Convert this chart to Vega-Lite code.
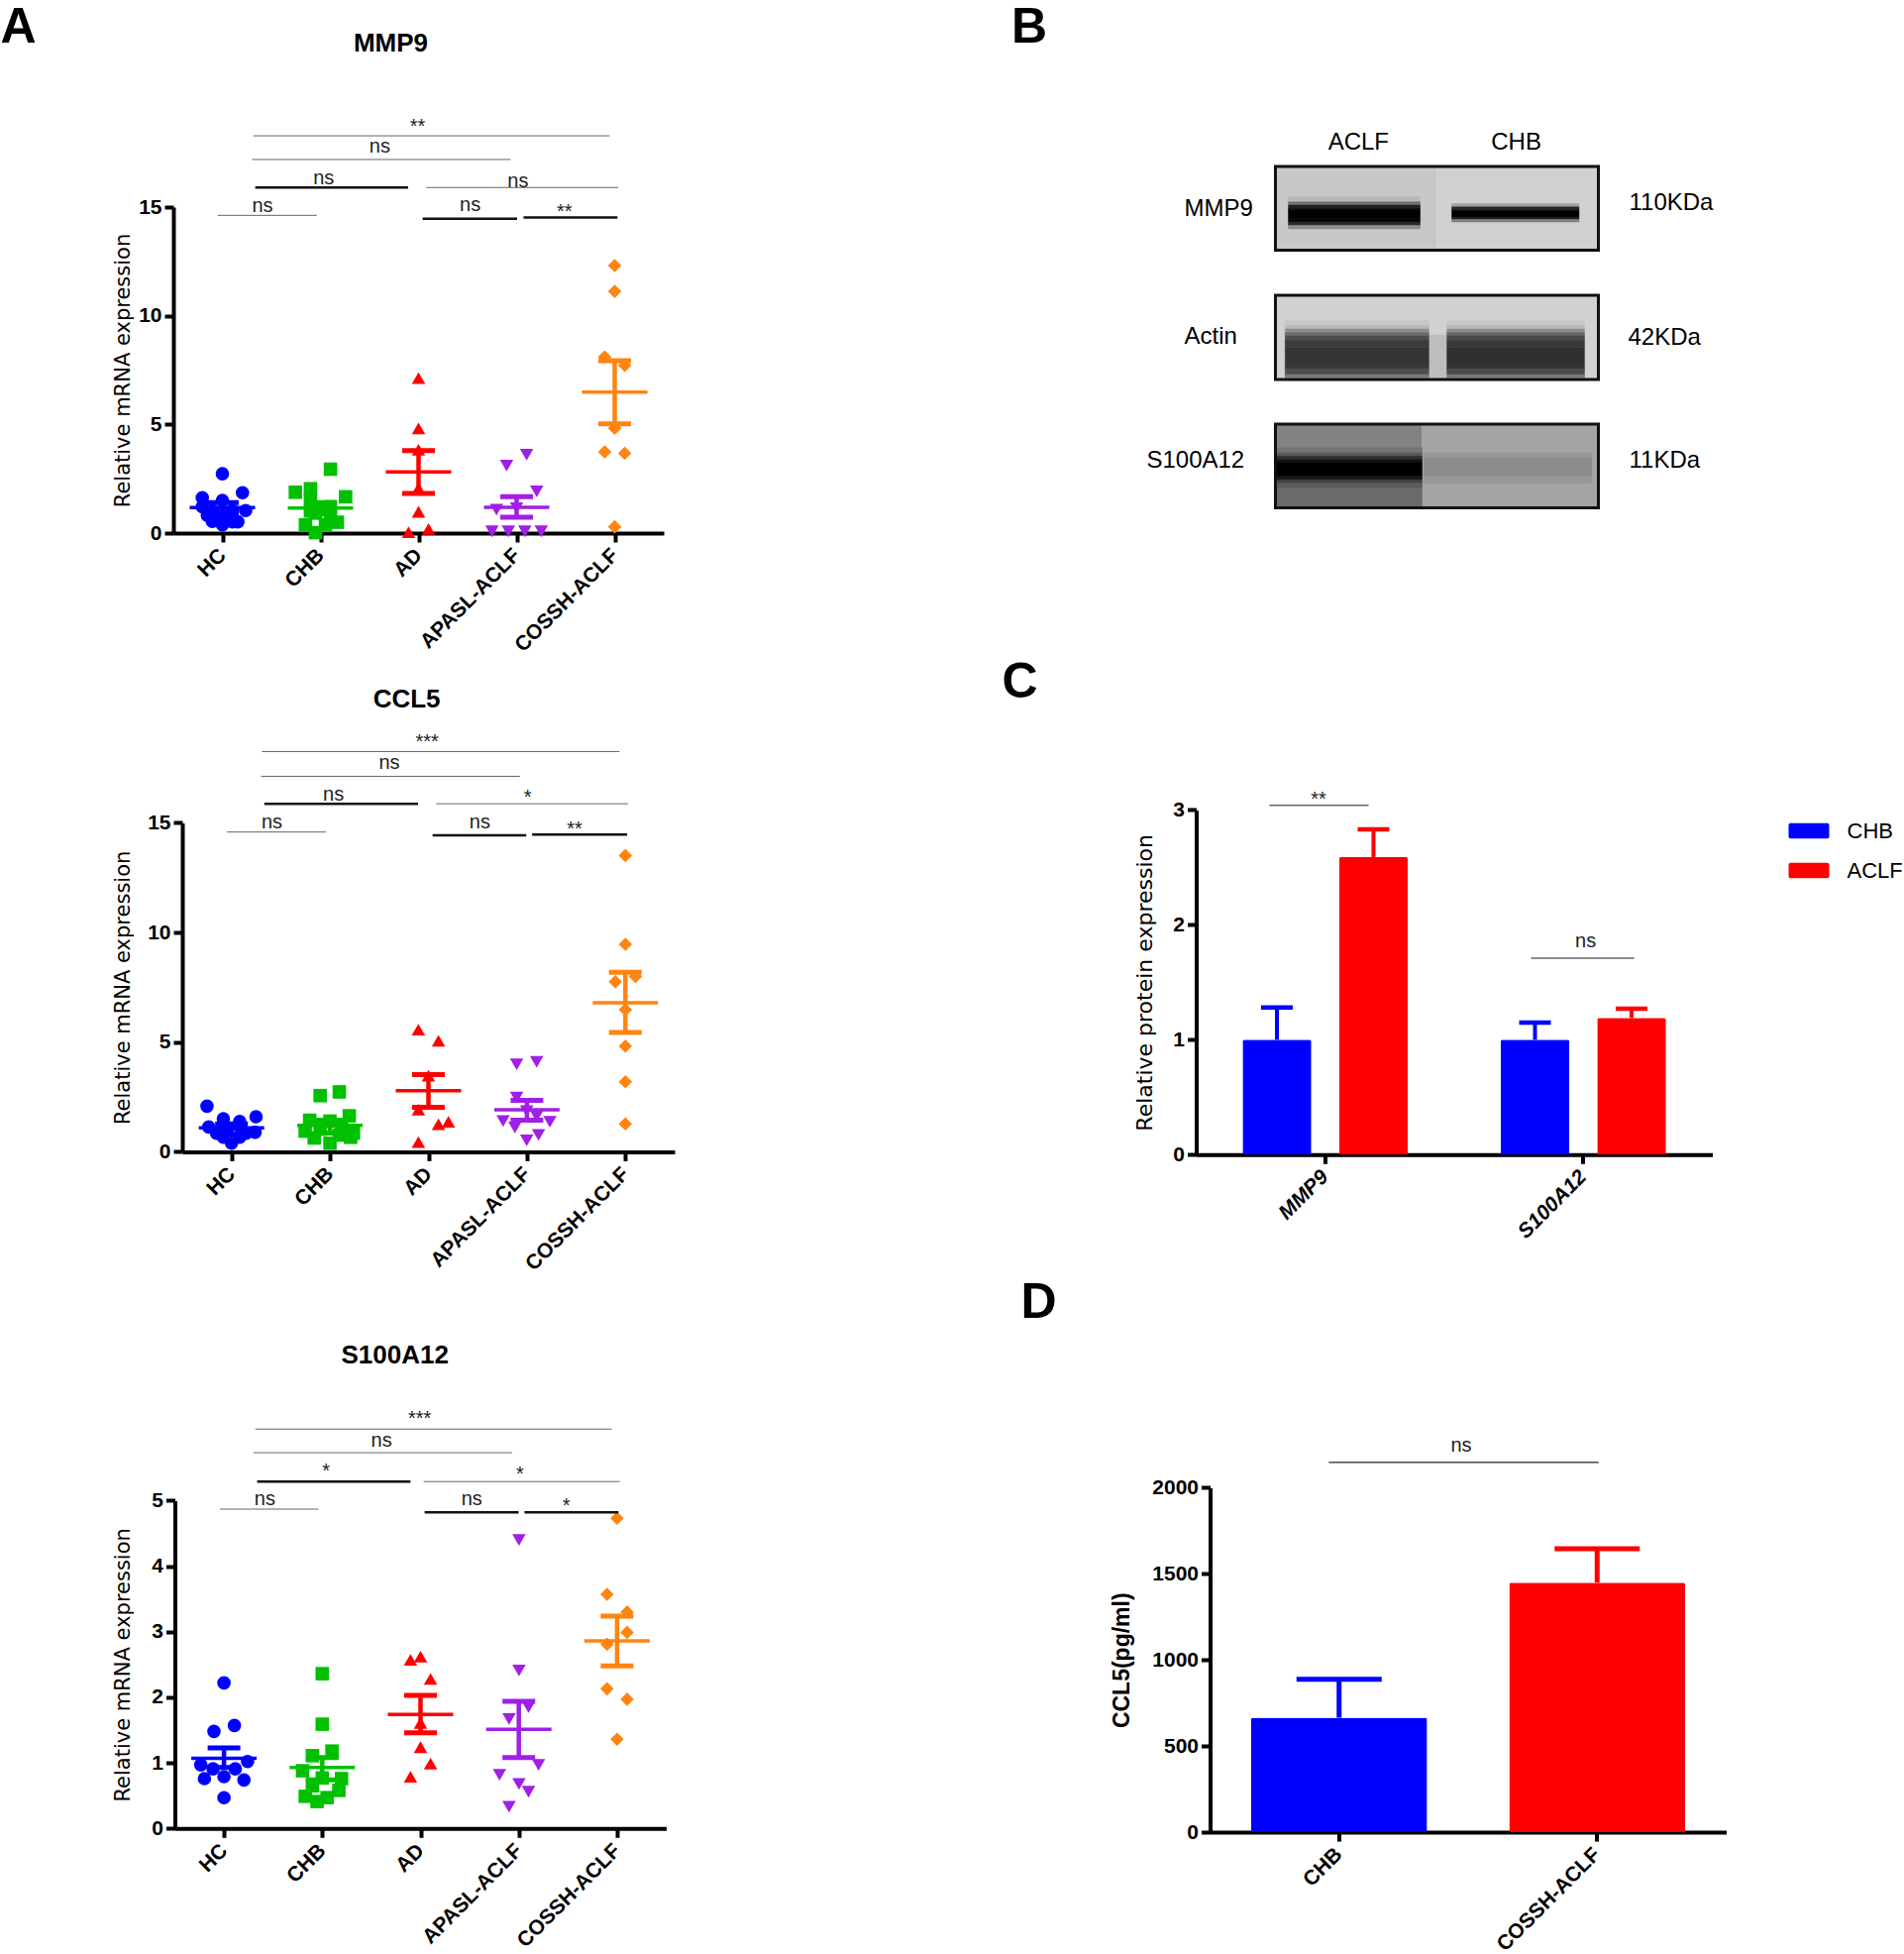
{
"$schema":"https://vega.github.io/schema/vega-lite/v6.json",
"padding":{"left":0,"top":3,"right":0,"bottom":0},
"background":"white",
"columns":2,
"align":"none",
"bounds":"flush",
"spacing":{"row":0,"column":522.5},
"config":{
 "view":{"stroke":null},
 "font":"Liberation Sans",
 "axis":{"grid":false,"domainColor":"#000","domainWidth":4,"tickColor":"#000","tickWidth":4,"tickSize":9,"labelColor":"#000","labelFont":"Liberation Sans","labelFontWeight":"bold","labelFontSize":21,"labelPadding":3,"labelOverlap":false,"labelFlush":false,"labelBound":false,"titleFont":"DejaVu Sans","titleFontWeight":"normal","titleFontSize":21,"titleColor":"#000"},
 "axisX":{"labelAngle":-45,"labelAlign":"right","labelBaseline":"middle","title":null,"labelPadding":10,"labelFontSize":21},
 "text":{"font":"Liberation Sans"}
},
"datasets":{
"mmp9Points":[
{"group":"HC","pos":0,"v":2.73},{"group":"HC","pos":0.205,"v":1.86},{"group":"HC","pos":-0.205,"v":1.63},{"group":"HC","pos":0,"v":1.5},{"group":"HC","pos":0.237,"v":1.04},{"group":"HC","pos":-0.205,"v":1.21},{"group":"HC","pos":-0.102,"v":1.04},{"group":"HC","pos":0.102,"v":1.04},{"group":"HC","pos":-0.153,"v":0.81},{"group":"HC","pos":0,"v":0.81},{"group":"HC","pos":-0.102,"v":0.54},{"group":"HC","pos":0,"v":0.38},{"group":"HC","pos":0.102,"v":0.52},{"group":"HC","pos":0.158,"v":0.52},
{"group":"CHB","pos":1.102,"v":2.94},{"group":"CHB","pos":0.744,"v":1.88},{"group":"CHB","pos":0.898,"v":2.04},{"group":"CHB","pos":1.256,"v":1.67},{"group":"CHB","pos":0.898,"v":1.59},{"group":"CHB","pos":1.102,"v":1.21},{"group":"CHB","pos":1,"v":1.15},{"group":"CHB","pos":0.949,"v":0.92},{"group":"CHB","pos":0.847,"v":0.38},{"group":"CHB","pos":1.102,"v":0.73},{"group":"CHB","pos":1.172,"v":0.5},{"group":"CHB","pos":1.051,"v":0.38},{"group":"CHB","pos":0.949,"v":0.02},{"group":"CHB","pos":0.898,"v":1.02},
{"group":"AD","pos":2,"v":7.13},{"group":"AD","pos":2,"v":4.82},{"group":"AD","pos":2,"v":3.84},{"group":"AD","pos":2,"v":2.07},{"group":"AD","pos":2,"v":0.98},{"group":"AD","pos":1.898,"v":0.04},{"group":"AD","pos":2.102,"v":0.19},
{"group":"APASL-ACLF","pos":3.102,"v":3.61},{"group":"APASL-ACLF","pos":2.898,"v":3.11},{"group":"APASL-ACLF","pos":3.205,"v":1.92},{"group":"APASL-ACLF","pos":2.795,"v":1.08},{"group":"APASL-ACLF","pos":3,"v":1.15},{"group":"APASL-ACLF","pos":2.749,"v":0.08},{"group":"APASL-ACLF","pos":2.916,"v":0.08},{"group":"APASL-ACLF","pos":3.084,"v":0.08},{"group":"APASL-ACLF","pos":3.251,"v":0.08},
{"group":"COSSH-ACLF","pos":4,"v":12.31},{"group":"COSSH-ACLF","pos":4,"v":11.12},{"group":"COSSH-ACLF","pos":3.898,"v":8.1},{"group":"COSSH-ACLF","pos":4.102,"v":7.72},{"group":"COSSH-ACLF","pos":4,"v":4.82},{"group":"COSSH-ACLF","pos":3.898,"v":3.74},{"group":"COSSH-ACLF","pos":4.102,"v":3.67},{"group":"COSSH-ACLF","pos":4,"v":0.29}],
"mmp9Stats":[
{"group":"HC","pos":0,"mean":1.17,"lo":0.92,"hi":1.4},{"group":"CHB","pos":1,"mean":1.15,"lo":0.88,"hi":1.4},{"group":"AD","pos":2,"mean":2.82,"lo":1.82,"hi":3.8},{"group":"APASL-ACLF","pos":3,"mean":1.19,"lo":0.73,"hi":1.67},{"group":"COSSH-ACLF","pos":4,"mean":6.49,"lo":5.03,"hi":7.93}],
"mmp9Brackets":[
{"pos":0.316,"pos2":3.949,"v":18.28,"weight":"thin"},{"pos":0.302,"pos2":2.94,"v":17.19,"weight":"thin"},{"pos":0.335,"pos2":1.893,"v":15.9,"weight":"thick"},{"pos":2.079,"pos2":4.037,"v":15.9,"weight":"thin"},{"pos":-0.047,"pos2":0.963,"v":14.62,"weight":"thin"},{"pos":2.042,"pos2":3.005,"v":14.46,"weight":"thick"},{"pos":3.07,"pos2":4.028,"v":14.52,"weight":"thick"}],
"mmp9Labels":[
{"pos":1.99,"v":18.7,"label":"**"},{"pos":1.605,"v":17.76,"label":"ns"},{"pos":1.033,"v":16.32,"label":"ns"},{"pos":3.014,"v":16.2,"label":"ns"},{"pos":0.409,"v":15.04,"label":"ns"},{"pos":2.526,"v":15.09,"label":"ns"},{"pos":3.488,"v":14.77,"label":"**"}],
"ccl5Points":[
{"group":"HC","pos":-0.249,"v":2.08},{"group":"HC","pos":0.249,"v":1.6},{"group":"HC","pos":-0.083,"v":1.51},{"group":"HC","pos":0.083,"v":1.38},{"group":"HC","pos":-0.231,"v":1.13},{"group":"HC","pos":-0.083,"v":1.03},{"group":"HC","pos":0.083,"v":1.13},{"group":"HC","pos":0.24,"v":0.89},{"group":"HC","pos":-0.152,"v":0.85},{"group":"HC","pos":0.148,"v":0.85},{"group":"HC","pos":-0.083,"v":0.66},{"group":"HC","pos":0.083,"v":0.66},{"group":"HC","pos":0,"v":0.39},
{"group":"CHB","pos":0.9,"v":2.56},{"group":"CHB","pos":1.095,"v":2.73},{"group":"CHB","pos":1.196,"v":1.64},{"group":"CHB","pos":0.794,"v":1.44},{"group":"CHB","pos":1,"v":1.4},{"group":"CHB","pos":0.748,"v":0.94},{"group":"CHB","pos":1.238,"v":0.85},{"group":"CHB","pos":0.84,"v":0.63},{"group":"CHB","pos":1.095,"v":0.76},{"group":"CHB","pos":1,"v":0.39},{"group":"CHB","pos":0.9,"v":1.03},{"group":"CHB","pos":1.118,"v":1.2},{"group":"CHB","pos":1.21,"v":0.66},
{"group":"AD","pos":1.898,"v":5.57},{"group":"AD","pos":2.102,"v":5.06},{"group":"AD","pos":2,"v":3.47},{"group":"AD","pos":1.898,"v":1.92},{"group":"AD","pos":2.102,"v":1.25},{"group":"AD","pos":2.203,"v":1.37},{"group":"AD","pos":1.898,"v":0.44},
{"group":"APASL-ACLF","pos":2.896,"v":3.99},{"group":"APASL-ACLF","pos":3.099,"v":4.1},{"group":"APASL-ACLF","pos":2.896,"v":2.47},{"group":"APASL-ACLF","pos":2.998,"v":1.85},{"group":"APASL-ACLF","pos":2.758,"v":1.4},{"group":"APASL-ACLF","pos":3.099,"v":1.62},{"group":"APASL-ACLF","pos":3.233,"v":1.37},{"group":"APASL-ACLF","pos":2.878,"v":1.11},{"group":"APASL-ACLF","pos":3.118,"v":0.77},{"group":"APASL-ACLF","pos":2.998,"v":0.52},
{"group":"COSSH-ACLF","pos":4,"v":13.51},{"group":"COSSH-ACLF","pos":4,"v":9.46},{"group":"COSSH-ACLF","pos":4.102,"v":7.99},{"group":"COSSH-ACLF","pos":3.898,"v":7.75},{"group":"COSSH-ACLF","pos":4,"v":6.48},{"group":"COSSH-ACLF","pos":4,"v":4.82},{"group":"COSSH-ACLF","pos":4,"v":3.19},{"group":"COSSH-ACLF","pos":4,"v":1.27}],
"ccl5Stats":[
{"group":"HC","pos":0,"mean":1.09,"lo":0.8,"hi":1.27},{"group":"CHB","pos":1,"mean":1.2,"lo":0.85,"hi":1.44},{"group":"AD","pos":2,"mean":2.79,"lo":2.03,"hi":3.52},{"group":"APASL-ACLF","pos":3,"mean":1.92,"lo":1.44,"hi":2.34},{"group":"COSSH-ACLF","pos":4,"mean":6.79,"lo":5.44,"hi":8.19}],
"ccl5Brackets":[
{"pos":0.309,"pos2":3.94,"v":18.25,"weight":"thin"},{"pos":0.3,"pos2":2.928,"v":17.12,"weight":"thin"},{"pos":0.333,"pos2":1.894,"v":15.87,"weight":"thick"},{"pos":2.079,"pos2":4.028,"v":15.87,"weight":"thin"},{"pos":-0.046,"pos2":0.961,"v":14.58,"weight":"thin"},{"pos":2.042,"pos2":2.993,"v":14.43,"weight":"thick"},{"pos":3.053,"pos2":4.018,"v":14.46,"weight":"thick"}],
"ccl5Labels":[
{"pos":1.986,"v":18.67,"label":"***"},{"pos":1.603,"v":17.71,"label":"ns"},{"pos":1.035,"v":16.29,"label":"ns"},{"pos":3.007,"v":16.14,"label":"*"},{"pos":0.411,"v":15.02,"label":"ns"},{"pos":2.522,"v":15.04,"label":"ns"},{"pos":3.483,"v":14.72,"label":"**"}],
"s100Points":[
{"group":"HC","pos":0,"v":2.22},{"group":"HC","pos":0.106,"v":1.57},{"group":"HC","pos":-0.102,"v":1.48},{"group":"HC","pos":0.24,"v":1.02},{"group":"HC","pos":-0.236,"v":0.97},{"group":"HC","pos":-0.111,"v":0.91},{"group":"HC","pos":0.115,"v":0.91},{"group":"HC","pos":-0.199,"v":0.76},{"group":"HC","pos":0,"v":0.79},{"group":"HC","pos":0.203,"v":0.74},{"group":"HC","pos":0,"v":0.47},
{"group":"CHB","pos":1,"v":2.36},{"group":"CHB","pos":1,"v":1.59},{"group":"CHB","pos":1.099,"v":1.18},{"group":"CHB","pos":0.9,"v":1.11},{"group":"CHB","pos":0.8,"v":0.88},{"group":"CHB","pos":1.196,"v":0.76},{"group":"CHB","pos":1,"v":0.77},{"group":"CHB","pos":0.9,"v":0.65},{"group":"CHB","pos":1.169,"v":0.58},{"group":"CHB","pos":0.827,"v":0.49},{"group":"CHB","pos":1.049,"v":0.47},{"group":"CHB","pos":0.947,"v":0.41},
{"group":"AD","pos":1.898,"v":2.57},{"group":"AD","pos":2,"v":2.62},{"group":"AD","pos":2.102,"v":2.28},{"group":"AD","pos":2,"v":1.61},{"group":"AD","pos":2,"v":1.24},{"group":"AD","pos":2.102,"v":0.99},{"group":"AD","pos":1.898,"v":0.79},
{"group":"APASL-ACLF","pos":3.002,"v":4.4},{"group":"APASL-ACLF","pos":3.002,"v":2.41},{"group":"APASL-ACLF","pos":3.099,"v":1.85},{"group":"APASL-ACLF","pos":2.901,"v":1.67},{"group":"APASL-ACLF","pos":3.201,"v":0.97},{"group":"APASL-ACLF","pos":2.804,"v":0.82},{"group":"APASL-ACLF","pos":3.002,"v":0.68},{"group":"APASL-ACLF","pos":3.099,"v":0.56},{"group":"APASL-ACLF","pos":2.901,"v":0.33},
{"group":"COSSH-ACLF","pos":4,"v":4.73},{"group":"COSSH-ACLF","pos":3.898,"v":3.57},{"group":"COSSH-ACLF","pos":4.102,"v":3.3},{"group":"COSSH-ACLF","pos":4.102,"v":2.99},{"group":"COSSH-ACLF","pos":3.898,"v":2.81},{"group":"COSSH-ACLF","pos":3.898,"v":2.13},{"group":"COSSH-ACLF","pos":4.102,"v":1.97},{"group":"COSSH-ACLF","pos":4,"v":1.36}],
"s100Stats":[
{"group":"HC","pos":0,"mean":1.07,"lo":0.93,"hi":1.23},{"group":"CHB","pos":1,"mean":0.93,"lo":0.74,"hi":1.08},{"group":"AD","pos":2,"mean":1.74,"lo":1.46,"hi":2.03},{"group":"APASL-ACLF","pos":3,"mean":1.51,"lo":1.08,"hi":1.94},{"group":"COSSH-ACLF","pos":4,"mean":2.86,"lo":2.48,"hi":3.24}],
"s100Brackets":[
{"pos":0.319,"pos2":3.945,"v":6.09,"weight":"thin"},{"pos":0.3,"pos2":2.933,"v":5.73,"weight":"thin"},{"pos":0.337,"pos2":1.898,"v":5.29,"weight":"thick"},{"pos":2.032,"pos2":4.028,"v":5.29,"weight":"thin"},{"pos":-0.042,"pos2":0.961,"v":4.87,"weight":"thin"},{"pos":2.042,"pos2":2.998,"v":4.82,"weight":"thick"},{"pos":3.058,"pos2":4.014,"v":4.82,"weight":"thick"}],
"s100Labels":[
{"pos":1.991,"v":6.25,"label":"***"},{"pos":1.603,"v":5.92,"label":"ns"},{"pos":1.039,"v":5.45,"label":"*"},{"pos":3.012,"v":5.4,"label":"*"},{"pos":0.416,"v":5.02,"label":"ns"},{"pos":2.522,"v":5.02,"label":"ns"},{"pos":3.483,"v":4.92,"label":"*"}],
"blotCells":[
{"x":0,"x2":0.5,"y":0,"y2":0.994,"d":206},{"x":0.5,"x2":1,"y":0,"y2":0.994,"d":214},
{"x":0.04,"x2":0.448,"y":0.36,"y2":0.42,"d":190},{"x":0.04,"x2":0.448,"y":0.42,"y2":0.46,"d":120},{"x":0.04,"x2":0.448,"y":0.46,"y2":0.5,"d":30},{"x":0.04,"x2":0.448,"y":0.5,"y2":0.54,"d":5},{"x":0.04,"x2":0.448,"y":0.54,"y2":0.62,"d":0},{"x":0.04,"x2":0.448,"y":0.62,"y2":0.66,"d":5},{"x":0.04,"x2":0.448,"y":0.66,"y2":0.7,"d":40},{"x":0.04,"x2":0.448,"y":0.7,"y2":0.74,"d":150},
{"x":0.546,"x2":0.94,"y":0.44,"y2":0.48,"d":170},{"x":0.546,"x2":0.94,"y":0.48,"y2":0.52,"d":40},{"x":0.546,"x2":0.94,"y":0.52,"y2":0.6,"d":0},{"x":0.546,"x2":0.94,"y":0.6,"y2":0.63,"d":30},{"x":0.546,"x2":0.94,"y":0.63,"y2":0.66,"d":140},
{"x":0,"x2":1,"y":1.529,"y2":2.529,"d":214},{"x":0.475,"x2":0.531,"y":2,"y2":2.529,"d":195},
{"x":0.03,"x2":0.475,"y":1.83,"y2":1.89,"d":205},{"x":0.03,"x2":0.475,"y":1.89,"y2":1.93,"d":190},{"x":0.03,"x2":0.475,"y":1.93,"y2":1.97,"d":150},{"x":0.03,"x2":0.475,"y":1.97,"y2":2.01,"d":115},{"x":0.03,"x2":0.475,"y":2.01,"y2":2.07,"d":85},{"x":0.03,"x2":0.475,"y":2.07,"y2":2.15,"d":65},{"x":0.03,"x2":0.475,"y":2.15,"y2":2.33,"d":55},{"x":0.03,"x2":0.475,"y":2.33,"y2":2.41,"d":60},{"x":0.03,"x2":0.475,"y":2.41,"y2":2.47,"d":85},{"x":0.03,"x2":0.475,"y":2.47,"y2":2.51,"d":130},
{"x":0.531,"x2":0.957,"y":1.83,"y2":1.89,"d":205},{"x":0.531,"x2":0.957,"y":1.89,"y2":1.93,"d":190},{"x":0.531,"x2":0.957,"y":1.93,"y2":1.97,"d":150},{"x":0.531,"x2":0.957,"y":1.97,"y2":2.01,"d":110},{"x":0.531,"x2":0.957,"y":2.01,"y2":2.07,"d":80},{"x":0.531,"x2":0.957,"y":2.07,"y2":2.15,"d":60},{"x":0.531,"x2":0.957,"y":2.15,"y2":2.33,"d":50},{"x":0.531,"x2":0.957,"y":2.33,"y2":2.41,"d":55},{"x":0.531,"x2":0.957,"y":2.41,"y2":2.47,"d":80},{"x":0.531,"x2":0.957,"y":2.47,"y2":2.51,"d":130},
{"x":0,"x2":0.454,"y":3.059,"y2":4.053,"d":140},{"x":0.454,"x2":1,"y":3.059,"y2":4.053,"d":172},
{"x":0,"x2":0.454,"y":3.339,"y2":3.399,"d":125},{"x":0,"x2":0.454,"y":3.399,"y2":3.439,"d":100},{"x":0,"x2":0.454,"y":3.439,"y2":3.479,"d":50},{"x":0,"x2":0.454,"y":3.479,"y2":3.519,"d":15},{"x":0,"x2":0.454,"y":3.519,"y2":3.679,"d":0},{"x":0,"x2":0.454,"y":3.679,"y2":3.719,"d":20},{"x":0,"x2":0.454,"y":3.719,"y2":3.759,"d":70},{"x":0,"x2":0.454,"y":3.759,"y2":3.819,"d":100},{"x":0,"x2":0.454,"y":3.819,"y2":4.053,"d":115},
{"x":0.46,"x2":0.98,"y":3.399,"y2":3.459,"d":160},{"x":0.46,"x2":0.98,"y":3.459,"y2":3.679,"d":148},{"x":0.46,"x2":0.98,"y":3.679,"y2":3.759,"d":160}],
"blotFrames":[{"x":0,"x2":1,"y":0,"y2":0.994},{"x":0,"x2":1,"y":1.529,"y2":2.529},{"x":0,"x2":1,"y":3.059,"y2":4.053}],
"blotLabels":[
{"x":0.163,"y":-0.282,"label":"ACLF"},{"x":0.668,"y":-0.282,"label":"CHB"},{"x":-0.282,"y":0.506,"label":"MMP9"},{"x":-0.282,"y":2.02,"label":"Actin"},{"x":-0.399,"y":3.494,"label":"S100A12"},{"x":1.095,"y":0.435,"label":"110KDa"},{"x":1.092,"y":2.035,"label":"42KDa"},{"x":1.095,"y":3.494,"label":"11KDa"}],
"proteinBars":[
{"gene":"MMP9","series":"CHB","v":1,"hi":1.28},{"gene":"MMP9","series":"ACLF","v":2.59,"hi":2.83},{"gene":"S100A12","series":"CHB","v":1,"hi":1.15},{"gene":"S100A12","series":"ACLF","v":1.19,"hi":1.27}],
"serumBars":[
{"group":"CHB","v":665,"hi":888},{"group":"COSSH-ACLF","v":1449,"hi":1645}]
},
"concat":[
{"width":510,"height":370,
 "encoding":{
  "x":{"field":"pos","type":"quantitative","scale":{"domain":[-0.5,4.5],"range":[0,495],"nice":false,"zero":false},"axis":{"values":[0,1,2,3,4],"labelExpr":"['HC','CHB','AD','APASL-ACLF','COSSH-ACLF'][datum.value]"}},
  "y":{"field":"v","type":"quantitative","scale":{"domain":[0,15],"range":[370,41],"nice":false,"zero":false},"axis":{"values":[0,5,10,15],"title":"Relative mRNA expression","titleX":-40.5}}},
 "layer":[
  {"data":{"name":"mmp9Points"},"mark":{"type":"point","filled":true,"opacity":1},"encoding":{"color":{"field":"group","type":"nominal","scale":{"domain":["HC","CHB","AD","APASL-ACLF","COSSH-ACLF"],"range":["#0000ff","#00c000","#ff0000","#a01fe6","#ff8411"]},"legend":null},"shape":{"field":"group","type":"nominal","scale":{"domain":["HC","CHB","AD","APASL-ACLF","COSSH-ACLF"],"range":["circle","square","triangle-up","triangle-down","diamond"]},"legend":null},"size":{"field":"group","type":"nominal","scale":{"domain":["HC","CHB","AD","APASL-ACLF","COSSH-ACLF"],"range":[185,185,240,240,290]},"legend":null}}},
  {"data":{"name":"mmp9Stats"},"mark":{"type":"rule","strokeWidth":4.5},"encoding":{"y":{"field":"lo","type":"quantitative"},"y2":{"field":"hi"},"color":{"field":"group","type":"nominal","legend":null}}},
  {"data":{"name":"mmp9Stats"},"mark":{"type":"tick","orient":"horizontal","size":66,"thickness":3.5,"opacity":1},"encoding":{"y":{"field":"mean","type":"quantitative"},"color":{"field":"group","type":"nominal","legend":null}}},
  {"data":{"name":"mmp9Stats"},"mark":{"type":"tick","orient":"horizontal","size":33,"thickness":5,"opacity":1},"encoding":{"y":{"field":"lo","type":"quantitative"},"color":{"field":"group","type":"nominal","legend":null}}},
  {"data":{"name":"mmp9Stats"},"mark":{"type":"tick","orient":"horizontal","size":33,"thickness":5,"opacity":1},"encoding":{"y":{"field":"hi","type":"quantitative"},"color":{"field":"group","type":"nominal","legend":null}}},
  {"data":{"name":"mmp9Brackets"},"mark":{"type":"rule"},"encoding":{"x2":{"field":"pos2"},"stroke":{"field":"weight","type":"nominal","scale":{"domain":["thin","thick"],"range":["#666666","#111111"]},"legend":null},"strokeWidth":{"field":"weight","type":"ordinal","scale":{"domain":["thin","thick"],"range":[1,2.5]},"legend":null}}},
  {"data":{"name":"mmp9Labels"},"mark":{"type":"text","fontSize":20,"color":"#222"},"encoding":{"text":{"field":"label"}}},
  {"data":{"values":[{"pos":1.717,"v":22.52,"label":"MMP9"}]},"mark":{"type":"text","fontSize":26,"fontWeight":"bold","color":"#000"},"encoding":{"text":{"field":"label"}}},
  {"data":{"values":[{"pos":-2.08,"v":23.25,"label":"A"}]},"mark":{"type":"text","fontSize":50,"fontWeight":"bold","color":"#000"},"encoding":{"text":{"field":"label"}}}
 ]},
{"width":540,"height":370,
 "encoding":{
  "x":{"field":"x","type":"quantitative","scale":{"domain":[0,1],"range":[80,406],"nice":false,"zero":false},"axis":null},
  "y":{"field":"y","type":"quantitative","scale":{"domain":[0,4.047],"range":[0,344],"nice":false,"zero":false},"axis":null}},
 "layer":[
  {"data":{"name":"blotCells"},"mark":{"type":"rect","strokeWidth":0.5},"encoding":{"x2":{"field":"x2"},"y2":{"field":"y2"},"color":{"field":"d","type":"quantitative","scale":{"domain":[0,255],"range":["#000000","#ffffff"]},"legend":null},"stroke":{"field":"d","type":"quantitative","scale":{"domain":[0,255],"range":["#000000","#ffffff"]},"legend":null}}},
  {"data":{"name":"blotFrames"},"mark":{"type":"rect","fill":null,"stroke":"#111111","strokeWidth":3},"encoding":{"x2":{"field":"x2"},"y2":{"field":"y2"}}},
  {"data":{"name":"blotLabels"},"mark":{"type":"text","fontSize":24,"align":"left","color":"#000"},"encoding":{"text":{"field":"label"}}},
  {"data":{"values":[{"x":-0.762,"y":-1.647,"label":"B"}]},"mark":{"type":"text","fontSize":50,"fontWeight":"bold","color":"#000"},"encoding":{"text":{"field":"label"}}}
 ]},
{"width":510,"height":627.3,
 "encoding":{
  "x":{"field":"pos","type":"quantitative","scale":{"domain":[-0.5,4.5],"range":[9,506],"nice":false,"zero":false},"axis":{"values":[0,1,2,3,4],"offset":-2.9,"labelExpr":"['HC','CHB','AD','APASL-ACLF','COSSH-ACLF'][datum.value]"}},
  "y":{"field":"v","type":"quantitative","scale":{"domain":[0,15],"range":[624.4,292.4],"nice":false,"zero":false},"axis":{"values":[0,5,10,15],"title":"Relative mRNA expression","titleX":-49.6,"offset":-9}}},
 "layer":[
  {"data":{"name":"ccl5Points"},"mark":{"type":"point","filled":true,"opacity":1},"encoding":{"color":{"field":"group","type":"nominal","scale":{"domain":["HC","CHB","AD","APASL-ACLF","COSSH-ACLF"],"range":["#0000ff","#00c000","#ff0000","#a01fe6","#ff8411"]},"legend":null},"shape":{"field":"group","type":"nominal","scale":{"domain":["HC","CHB","AD","APASL-ACLF","COSSH-ACLF"],"range":["circle","square","triangle-up","triangle-down","diamond"]},"legend":null},"size":{"field":"group","type":"nominal","scale":{"domain":["HC","CHB","AD","APASL-ACLF","COSSH-ACLF"],"range":[185,185,240,240,290]},"legend":null}}},
  {"data":{"name":"ccl5Stats"},"mark":{"type":"rule","strokeWidth":4.5},"encoding":{"y":{"field":"lo","type":"quantitative"},"y2":{"field":"hi"},"color":{"field":"group","type":"nominal","legend":null}}},
  {"data":{"name":"ccl5Stats"},"mark":{"type":"tick","orient":"horizontal","size":66,"thickness":3.5,"opacity":1},"encoding":{"y":{"field":"mean","type":"quantitative"},"color":{"field":"group","type":"nominal","legend":null}}},
  {"data":{"name":"ccl5Stats"},"mark":{"type":"tick","orient":"horizontal","size":33,"thickness":5,"opacity":1},"encoding":{"y":{"field":"lo","type":"quantitative"},"color":{"field":"group","type":"nominal","legend":null}}},
  {"data":{"name":"ccl5Stats"},"mark":{"type":"tick","orient":"horizontal","size":33,"thickness":5,"opacity":1},"encoding":{"y":{"field":"hi","type":"quantitative"},"color":{"field":"group","type":"nominal","legend":null}}},
  {"data":{"name":"ccl5Brackets"},"mark":{"type":"rule"},"encoding":{"x2":{"field":"pos2"},"stroke":{"field":"weight","type":"nominal","scale":{"domain":["thin","thick"],"range":["#666666","#111111"]},"legend":null},"strokeWidth":{"field":"weight","type":"ordinal","scale":{"domain":["thin","thick"],"range":[1,2.5]},"legend":null}}},
  {"data":{"name":"ccl5Labels"},"mark":{"type":"text","fontSize":20,"color":"#222"},"encoding":{"text":{"field":"label"}}},
  {"data":{"values":[{"pos":1.78,"v":20.6,"label":"CCL5"}]},"mark":{"type":"text","fontSize":26,"fontWeight":"bold","color":"#000"},"encoding":{"text":{"field":"label"}}}
 ]},
{"width":540,"height":627.3,
 "encoding":{
  "y":{"field":"v","type":"quantitative","scale":{"domain":[0,3],"range":[627.3,279.4],"nice":false,"zero":false},"axis":{"values":[0,1,2,3],"title":"Relative protein expression","titleX":-40,"titleFontSize":22}}},
 "layer":[
  {"layer":[
   {"data":{"name":"proteinBars"},"mark":{"type":"bar","cornerRadiusTopLeft":2,"cornerRadiusTopRight":2},"encoding":{"x":{"field":"gene","type":"nominal","sort":["MMP9","S100A12"],"scale":{"type":"band","paddingInner":0,"paddingOuter":0,"range":[0,521]},"axis":{"labelFontStyle":"italic"}},"xOffset":{"field":"series","type":"nominal","sort":["CHB","ACLF"],"scale":{"paddingInner":0.288,"paddingOuter":0.48}},"color":{"field":"series","type":"nominal","scale":{"domain":["CHB","ACLF"],"range":["#0000ff","#ff0000"]},"legend":{"orient":"none","legendX":598,"legendY":280,"title":null,"symbolType":"M-0.9,-0.38H0.9Q1,-0.38 1,-0.28V0.28Q1,0.38 0.9,0.38H-0.9Q-1,0.38 -1,0.28V-0.28Q-1,-0.38 -0.9,-0.38Z","symbolSize":1681,"symbolStrokeWidth":0,"symbolOpacity":1,"labelFontSize":22,"labelFont":"Liberation Sans","labelColor":"#000","labelOffset":18,"rowPadding":8}}}},
   {"data":{"name":"proteinBars"},"mark":{"type":"rule","strokeWidth":4},"encoding":{"x":{"field":"gene","type":"nominal","sort":["MMP9","S100A12"]},"xOffset":{"field":"series","type":"nominal","sort":["CHB","ACLF"]},"y":{"field":"v","type":"quantitative"},"y2":{"field":"hi"},"color":{"field":"series","type":"nominal"}}},
   {"data":{"name":"proteinBars"},"mark":{"type":"tick","orient":"horizontal","size":32,"thickness":4.5,"opacity":1},"encoding":{"x":{"field":"gene","type":"nominal","sort":["MMP9","S100A12"]},"xOffset":{"field":"series","type":"nominal","sort":["CHB","ACLF"]},"y":{"field":"hi","type":"quantitative"},"color":{"field":"series","type":"nominal"}}}
  ]},
  {"encoding":{"x":{"field":"x","type":"quantitative","scale":{"domain":[0,2],"range":[0,521],"nice":false,"zero":false},"axis":null}},
   "layer":[
   {"data":{"values":[{"x":0.284,"x2":0.668,"v":3.04},{"x":1.298,"x2":1.697,"v":1.71}]},"mark":{"type":"rule","stroke":"#666666","strokeWidth":1.5},"encoding":{"x2":{"field":"x2"}}},
   {"data":{"values":[{"x":0.474,"v":3.09,"label":"**"},{"x":1.509,"v":1.86,"label":"ns"}]},"mark":{"type":"text","fontSize":20,"color":"#222"},"encoding":{"text":{"field":"label"}}},
   {"data":{"values":[{"x":-0.683,"v":4.106,"label":"C"}]},"mark":{"type":"text","fontSize":50,"fontWeight":"bold","color":"#000"},"encoding":{"text":{"field":"label"}}}
  ]}
 ],
 "resolve":{"scale":{"x":"independent"}}},
{"width":510,"height":679.3,
 "encoding":{
  "x":{"field":"pos","type":"quantitative","scale":{"domain":[-0.5,4.5],"range":[1.5,497.5],"nice":false,"zero":false},"axis":{"values":[0,1,2,3,4],"labelExpr":"['HC','CHB','AD','APASL-ACLF','COSSH-ACLF'][datum.value]"}},
  "y":{"field":"v","type":"quantitative","scale":{"domain":[0,5],"range":[679.3,348.4],"nice":false,"zero":false},"axis":{"values":[0,1,2,3,4,5],"title":"Relative mRNA expression","titleX":-42,"offset":-1.5}}},
 "layer":[
  {"data":{"name":"s100Points"},"mark":{"type":"point","filled":true,"opacity":1},"encoding":{"color":{"field":"group","type":"nominal","scale":{"domain":["HC","CHB","AD","APASL-ACLF","COSSH-ACLF"],"range":["#0000ff","#00c000","#ff0000","#a01fe6","#ff8411"]},"legend":null},"shape":{"field":"group","type":"nominal","scale":{"domain":["HC","CHB","AD","APASL-ACLF","COSSH-ACLF"],"range":["circle","square","triangle-up","triangle-down","diamond"]},"legend":null},"size":{"field":"group","type":"nominal","scale":{"domain":["HC","CHB","AD","APASL-ACLF","COSSH-ACLF"],"range":[185,185,240,240,290]},"legend":null}}},
  {"data":{"name":"s100Stats"},"mark":{"type":"rule","strokeWidth":4.5},"encoding":{"y":{"field":"lo","type":"quantitative"},"y2":{"field":"hi"},"color":{"field":"group","type":"nominal","legend":null}}},
  {"data":{"name":"s100Stats"},"mark":{"type":"tick","orient":"horizontal","size":66,"thickness":3.5,"opacity":1},"encoding":{"y":{"field":"mean","type":"quantitative"},"color":{"field":"group","type":"nominal","legend":null}}},
  {"data":{"name":"s100Stats"},"mark":{"type":"tick","orient":"horizontal","size":33,"thickness":5,"opacity":1},"encoding":{"y":{"field":"lo","type":"quantitative"},"color":{"field":"group","type":"nominal","legend":null}}},
  {"data":{"name":"s100Stats"},"mark":{"type":"tick","orient":"horizontal","size":33,"thickness":5,"opacity":1},"encoding":{"y":{"field":"hi","type":"quantitative"},"color":{"field":"group","type":"nominal","legend":null}}},
  {"data":{"name":"s100Brackets"},"mark":{"type":"rule"},"encoding":{"x2":{"field":"pos2"},"stroke":{"field":"weight","type":"nominal","scale":{"domain":["thin","thick"],"range":["#666666","#111111"]},"legend":null},"strokeWidth":{"field":"weight","type":"ordinal","scale":{"domain":["thin","thick"],"range":[1,2.5]},"legend":null}}},
  {"data":{"name":"s100Labels"},"mark":{"type":"text","fontSize":20,"color":"#222"},"encoding":{"text":{"field":"label"}}},
  {"data":{"values":[{"pos":1.74,"v":7.21,"label":"S100A12"}]},"mark":{"type":"text","fontSize":26,"fontWeight":"bold","color":"#000"},"encoding":{"text":{"field":"label"}}}
 ]},
{"width":540,"height":683.1,
 "encoding":{
  "y":{"field":"v","type":"quantitative","scale":{"domain":[0,2000],"range":[683.1,335.4],"nice":false,"zero":false},"axis":{"values":[0,500,1000,1500,2000],"format":"d","title":"CCL5(pg/ml)","titleX":-77,"titleFont":"Liberation Sans","titleFontWeight":"bold","titleFontSize":23,"offset":-14}}},
 "layer":[
  {"layer":[
   {"data":{"name":"serumBars"},"mark":{"type":"bar","cornerRadiusTopLeft":2,"cornerRadiusTopRight":2},"encoding":{"x":{"field":"group","type":"nominal","sort":["CHB","COSSH-ACLF"],"scale":{"type":"band","paddingInner":0.318,"paddingOuter":0.159,"range":[14,535]},"axis":{}},"color":{"field":"group","type":"nominal","scale":{"domain":["CHB","COSSH-ACLF"],"range":["#0000ff","#ff0000"]},"legend":null}}},
   {"data":{"name":"serumBars"},"mark":{"type":"rule","strokeWidth":5},"encoding":{"x":{"field":"group","type":"nominal","sort":["CHB","COSSH-ACLF"]},"y":{"field":"v","type":"quantitative"},"y2":{"field":"hi"},"color":{"field":"group","type":"nominal","legend":null}}},
   {"data":{"name":"serumBars"},"mark":{"type":"tick","orient":"horizontal","size":86,"thickness":5,"opacity":1},"encoding":{"x":{"field":"group","type":"nominal","sort":["CHB","COSSH-ACLF"]},"y":{"field":"hi","type":"quantitative"},"color":{"field":"group","type":"nominal","legend":null}}}
  ]},
  {"encoding":{"x":{"field":"x","type":"quantitative","scale":{"domain":[0,2],"range":[14,535],"nice":false,"zero":false},"axis":null}},
   "layer":[
   {"data":{"values":[{"x":0.46,"x2":1.506,"v":2147}]},"mark":{"type":"rule","stroke":"#222222","strokeWidth":1.2},"encoding":{"x2":{"field":"x2"}}},
   {"data":{"values":[{"x":0.973,"v":2246,"label":"ns"}]},"mark":{"type":"text","fontSize":20,"color":"#222"},"encoding":{"text":{"field":"label"}}},
   {"data":{"values":[{"x":-0.664,"v":3074,"label":"D"}]},"mark":{"type":"text","fontSize":50,"fontWeight":"bold","color":"#000"},"encoding":{"text":{"field":"label"}}}
  ]}
 ],
 "resolve":{"scale":{"x":"independent"}}}
]
}
